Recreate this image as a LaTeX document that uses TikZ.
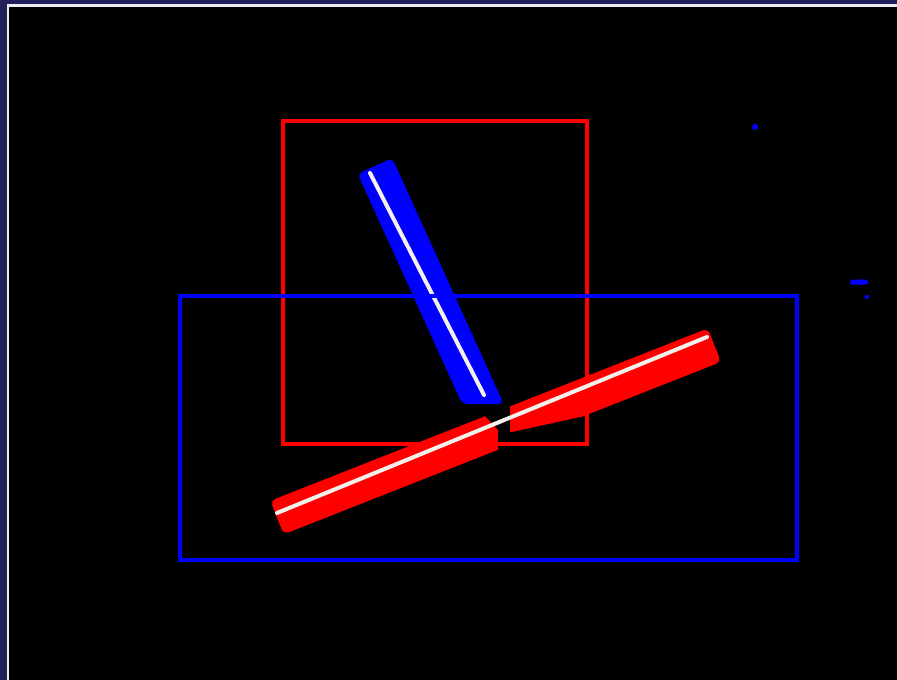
\documentclass[tikz,border=0pt]{standalone}
\definecolor{navy}{HTML}{231F5A}
\definecolor{frameline}{HTML}{ECECF2}
\definecolor{pureblue}{HTML}{0000FF}
\definecolor{purered}{HTML}{FF0000}
\definecolor{coreline}{HTML}{F4F0EA}
\begin{document}
\begin{tikzpicture}[x=1pt,y=-1pt,
  rectline/.style={line width=4.5pt},
  band/.style={draw=none, rounded corners=5pt},
  core/.style={line width=4pt, draw=coreline, line cap=round},
  speck/.style={fill=pureblue, draw=none}]
\useasboundingbox (0,0) rectangle (897,680);
% screen background and frame
\fill[navy] (0,0) rectangle (897,680);
\fill[frameline] (6.5,4.3) rectangle (897,680);
\fill[black] (8.8,6.8) rectangle (897,680);
% named points
\coordinate (redTL) at (283,121);
\coordinate (redBR) at (587,444);
\coordinate (blueTL) at (180,296);
\coordinate (blueBR) at (797,560);
\coordinate (rwA) at (277,513);
\coordinate (rwB) at (707,337);
\coordinate (bwA) at (370,173);
\coordinate (bwB) at (484,395);
% red band corners
\coordinate (rLT) at (270.4,500.8);
\coordinate (rLB) at (283.6,534.3);
\coordinate (rRT) at (707.8,328.4);
\coordinate (rRB) at (721,361.9);
% blue band corners
\coordinate (bTL) at (357.7,173.8);
\coordinate (bTR) at (392.3,158.2);
\coordinate (bBR) at (503.8,404);
\coordinate (bBL) at (462.2,404);
% red rectangle
\draw[purered, rectline] (redTL) rectangle (redBR);
% red band, left piece
\begin{scope}
  \clip (0,0) -- (484,0) -- (484,415) -- (498,430) -- (498,680) -- (0,680) -- cycle;
  \fill[purered, band] (rLT) -- (rRT) -- (rRB) -- (rLB) -- cycle;
\end{scope}
% red band, right piece
\begin{scope}
  \clip (510,0) -- (897,0) -- (897,680) -- (640,680) -- (580,417) -- (512,432) -- (510,432) -- cycle;
  \fill[purered, band] (rLT) -- (rRT) -- (rRB) -- (rLB) -- cycle;
\end{scope}
% blue band
\fill[pureblue, band] (bTL) -- (bTR) -- (bBR) -- (bBL) -- cycle;
% white core lines
\draw[core] (bwA) -- (bwB);
\draw[core] (rwA) -- (rwB);
% blue rectangle
\draw[pureblue, rectline] (blueTL) rectangle (blueBR);
% small blue specks
\fill[speck] (755,127) circle (3);
\fill[speck, rounded corners=2pt] (850,279.5) rectangle (868,284.5);
\fill[speck] (867,297) circle (2.2);
\end{tikzpicture}
\end{document}
